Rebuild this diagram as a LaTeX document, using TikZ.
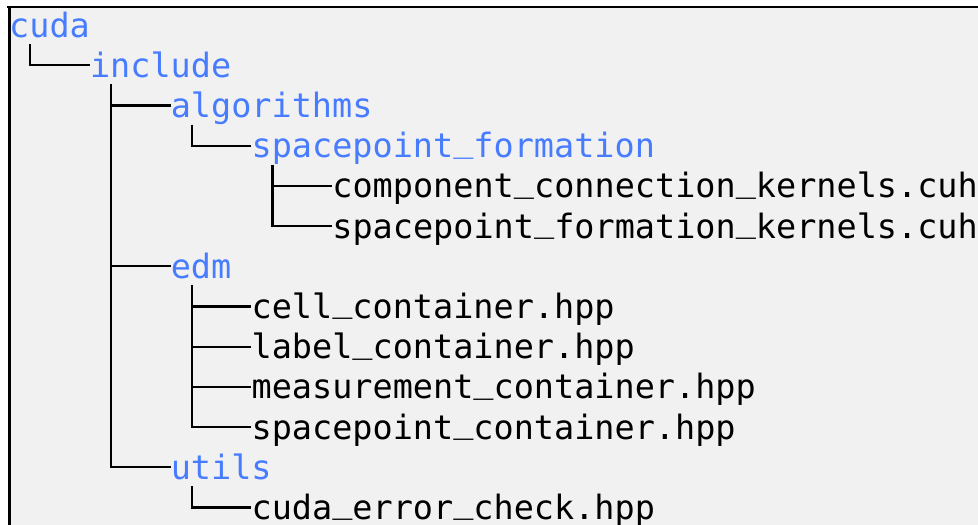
\documentclass[tikz,border=0pt]{standalone}
\usepackage{fontspec}
\setmonofont{DejaVu Sans Mono}
\definecolor{dirblue}{RGB}{72,124,255}
\definecolor{panelgray}{RGB}{241,241,241}
\newcommand\usc{\raisebox{6.5pt}{\_}}
\tikzset{
  entry/.style={anchor=base west, inner sep=0pt, text height=31pt, text depth=7pt,
    font=\ttfamily\fontsize{33.5}{40}\selectfont},
  dir/.style={entry, text=dirblue},
  file/.style={entry, text=black},
  branch/.style={line width=2.2pt, black},
}
\begin{document}
\begin{tikzpicture}[x=1pt,y=1pt]
    \def\x{20.2}
    \def\y{-40.2}
    \useasboundingbox (0,0) rectangle (978,-525);
    \fill[panelgray] (8,-7) rectangle (978,-525);
    \draw[line width=2pt] (7,-7) -- (978,-7);
    \draw[line width=3pt] (9,-6) -- (9,-525);
    \node[dir] (A0_0) at (9+0*\x, -37+0*\y) {cuda};
    \node[dir] (A1_4) at (9+4*\x, -37+1*\y) {include};
    \node[dir] (A2_8) at (9+8*\x, -37+2*\y) {algorithms};
    \node[dir] (A3_12) at (9+12*\x, -37+3*\y) {spacepoint\usc formation};
    \node[file] (A4_16) at (9+16*\x, -37+4*\y) {component\usc connection\usc kernels.cuh};
    \node[file] (A5_16) at (9+16*\x, -37+5*\y) {spacepoint\usc formation\usc kernels.cuh};
    \node[dir] (A6_8) at (9+8*\x, -37+6*\y) {edm};
    \node[file] (A7_12) at (9+12*\x, -37+7*\y) {cell\usc container.hpp};
    \node[file] (A8_12) at (9+12*\x, -37+8*\y) {label\usc container.hpp};
    \node[file] (A9_12) at (9+12*\x, -37+9*\y) {measurement\usc container.hpp};
    \node[file] (A10_12) at (9+12*\x, -37+10*\y) {spacepoint\usc container.hpp};
    \node[dir] (A11_8) at (9+8*\x, -37+11*\y) {utils};
    \node[file] (A12_12) at (9+12*\x, -37+12*\y) {cuda\usc error\usc check.hpp};
    \draw[branch] ([xshift=21pt]A0_0.south west) |- (A1_4.west);
    \draw[branch] ([xshift=21pt]A1_4.south west) |- (A2_8.west);
    \draw[branch] ([xshift=21pt]A1_4.south west) |- (A6_8.west);
    \draw[branch] ([xshift=21pt]A1_4.south west) |- (A11_8.west);
    \draw[branch] ([xshift=21pt]A2_8.south west) |- (A3_12.west);
    \draw[branch] ([xshift=21pt]A3_12.south west) |- (A4_16.west);
    \draw[branch] ([xshift=21pt]A3_12.south west) |- (A5_16.west);
    \draw[branch] ([xshift=21pt]A6_8.south west) |- (A7_12.west);
    \draw[branch] ([xshift=21pt]A6_8.south west) |- (A8_12.west);
    \draw[branch] ([xshift=21pt]A6_8.south west) |- (A9_12.west);
    \draw[branch] ([xshift=21pt]A6_8.south west) |- (A10_12.west);
    \draw[branch] ([xshift=21pt]A11_8.south west) |- (A12_12.west);
  \end{tikzpicture}
\end{document}
